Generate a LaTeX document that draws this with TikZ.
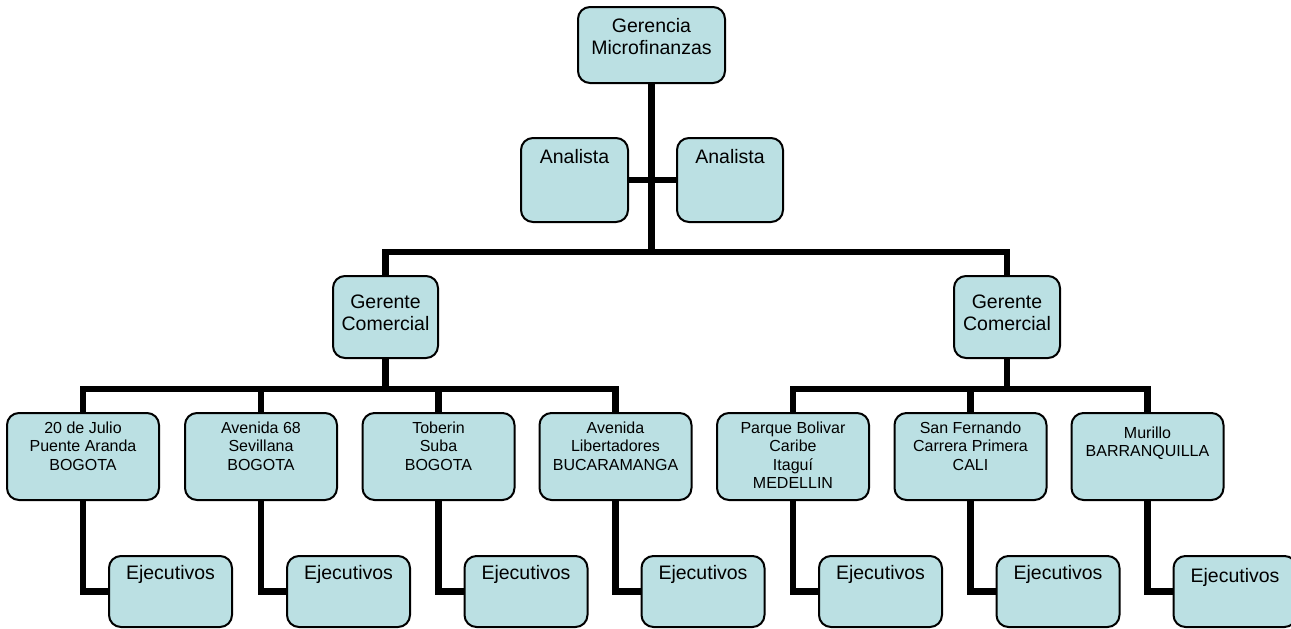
\documentclass[tikz,border=0pt]{standalone}
\usepackage{fontspec}
\setmainfont{Liberation Sans}
\definecolor{orgfill}{HTML}{BBE0E3}

\begin{document}
\begin{tikzpicture}[x=1pt, y=-1pt,
  unit/.style={draw=black, line width=2pt, fill=orgfill, rounded corners=12pt,
    anchor=north, inner sep=0pt, outer sep=0pt, align=center},
  big/.style={unit, font=\fontsize{19.5}{22.5}\selectfont},
  small/.style={unit, font=\fontsize{16}{18.5}\selectfont},
  link/.style={line width=6.5pt, line join=miter}]

  \useasboundingbox (0,0) rectangle (1291,629);

  % top of the chart
  \node [big, minimum width=147pt, text height=47.5pt, text depth=28.5pt] (ger) at (651.5,7) {Gerencia\\Microfinanzas};
  \node [big, minimum width=107pt, text height=25pt, text depth=59pt] (anL) at (574.5,138) {Analista};
  \node [big, minimum width=106pt, text height=25pt, text depth=59pt] (anR) at (730,138) {Analista};

  \node [big, minimum width=105pt, text height=54.5pt, text depth=27.5pt] (gcL) at (385.5,276) {Gerente\\Comercial};
  \node [big, minimum width=106pt, text height=54.5pt, text depth=27.5pt] (gcR) at (1007,276) {Gerente\\Comercial};

  % offices
  \node [small, minimum width=152pt, text height=57pt, text depth=30pt] (of1) at (83,413) {20 de Julio\\Puente Aranda\\BOGOTA};
  \node [small, minimum width=152pt, text height=57pt, text depth=30pt] (of2) at (261,413) {Avenida 68\\Sevillana\\BOGOTA};
  \node [small, minimum width=152pt, text height=57pt, text depth=30pt] (of3) at (438.5,413) {Toberin\\Suba\\BOGOTA};
  \node [small, minimum width=152pt, text height=57pt, text depth=30pt] (of4) at (615.5,413) {Avenida\\Libertadores\\BUCARAMANGA};
  \node [small, minimum width=152pt, text height=75.5pt, text depth=11.5pt] (of5) at (793,413) {Parque Bolivar\\Caribe\\Itaguí\\MEDELLIN};
  \node [small, minimum width=152pt, text height=57pt, text depth=30pt] (of6) at (970.5,413) {San Fernando\\Carrera Primera\\CALI};
  \node [small, minimum width=152pt, text height=43.5pt, text depth=43.5pt] (of7) at (1147.5,413) {Murillo\\BARRANQUILLA};

  % ejecutivos
  \node [big, anchor=north west, minimum width=123pt, text height=23pt, text depth=48pt] (ej1) at (109,556) {Ejecutivos};
  \node [big, anchor=north west, minimum width=123pt, text height=23pt, text depth=48pt] (ej2) at (287,556) {Ejecutivos};
  \node [big, anchor=north west, minimum width=123pt, text height=23pt, text depth=48pt] (ej3) at (464.5,556) {Ejecutivos};
  \node [big, anchor=north west, minimum width=123pt, text height=23pt, text depth=48pt] (ej4) at (641.5,556) {Ejecutivos};
  \node [big, anchor=north west, minimum width=123pt, text height=23pt, text depth=48pt] (ej5) at (819,556) {Ejecutivos};
  \node [big, anchor=north west, minimum width=123pt, text height=23pt, text depth=48pt] (ej6) at (996.5,556) {Ejecutivos};
  \node [big, anchor=north west, minimum width=123pt, text height=26pt, text depth=45pt] (ej7) at (1173.5,556) {Ejecutivos};

  \coordinate (bar1) at (651.5,252);
  \coordinate (bar2) at (385.5,389);
  \coordinate (bar3) at (1007,389);

  \draw [link] (ger) -- (bar1);
  \draw [link] (anL) -- (anR);
  \draw [link] (gcL.north) |- (bar1) -| (gcR.north);

  \draw [link] (gcL) -- (bar2);
  \draw [link] (of1.north) |- (bar2) -| (of4.north);
  \draw [link] (of2.north) -- (of2.north |- bar2);
  \draw [link] (of3.north) -- (of3.north |- bar2);

  \draw [link] (gcR) -- (bar3);
  \draw [link] (of5.north) |- (bar3) -| (of7.north);
  \draw [link] (of6.north) -- (of6.north |- bar3);

  \draw [link] (of1.south) |- (ej1.west);
  \draw [link] (of2.south) |- (ej2.west);
  \draw [link] (of3.south) |- (ej3.west);
  \draw [link] (of4.south) |- (ej4.west);
  \draw [link] (of5.south) |- (ej5.west);
  \draw [link] (of6.south) |- (ej6.west);
  \draw [link] (of7.south) |- (ej7.west);
\end{tikzpicture}
\end{document}
